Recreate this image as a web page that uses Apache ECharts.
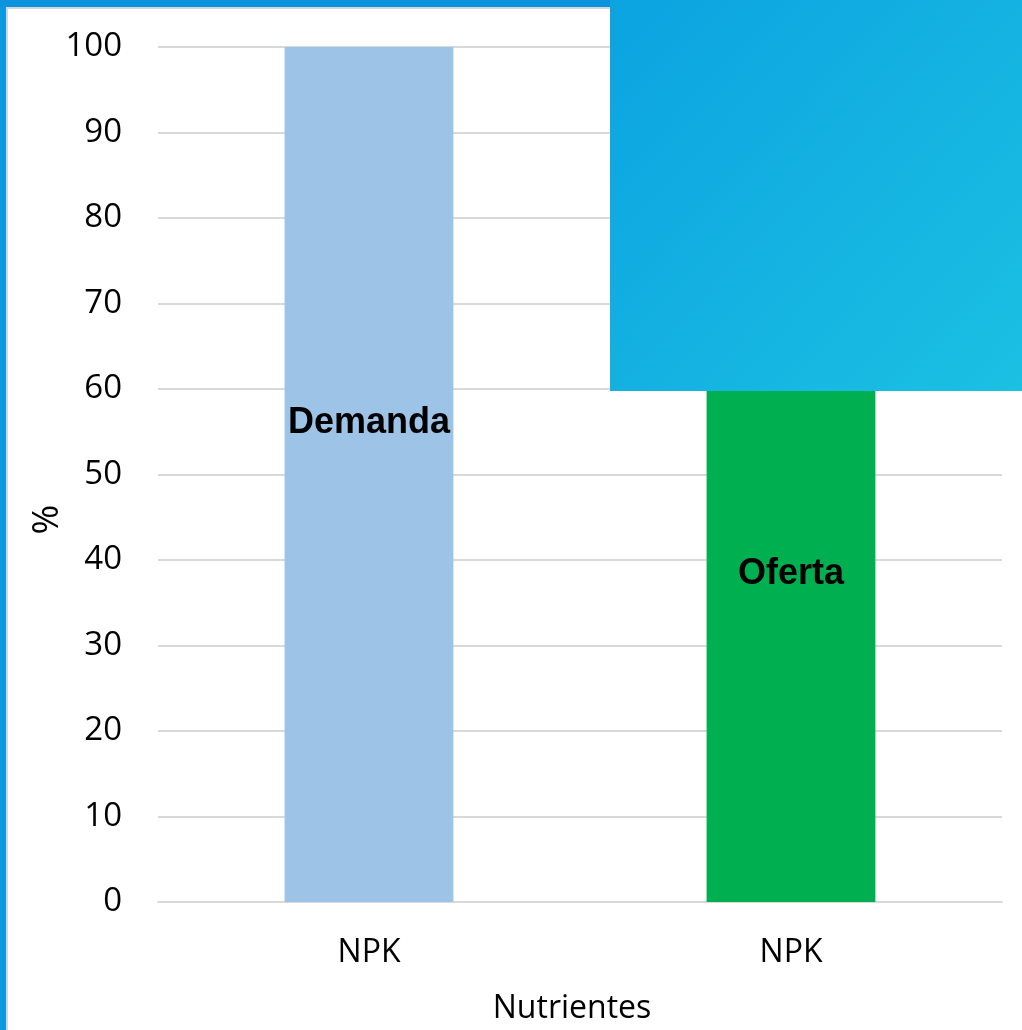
<!DOCTYPE html>
<html>
<head>
<meta charset="utf-8">
<script src="https://cdn.jsdelivr.net/npm/echarts@6/dist/echarts.min.js"></script>
<style>
  html, body { margin: 0; padding: 0; background: #fff; }
  #chart { width: 1022px; height: 1030px; }
</style>
</head>
<body>
<div id="chart"></div>
<script>
// categories and values
const categories = ['NPK', 'NPK'];
const barValues = [100, 77];
const barColors = ['#9dc3e6', '#00b050'];
const labelNames = ['Demanda', 'Oferta'];
const labelValues = [56.0, 38.4];

const chart = echarts.init(document.getElementById('chart'), null, { renderer: 'canvas' });

const option = {
    backgroundColor: '#ffffff',
    animation: false,
    grid: { left: 158, right: 20, top: 47, bottom: 127 },
    xAxis: {
        type: 'category',
        data: categories,
        name: 'Nutrientes',
        nameLocation: 'middle',
        nameGap: 91,
        nameMoveOverlap: false,
        nameTextStyle: { fontFamily: 'Open Sans', fontSize: 32, color: '#000', padding: [0, 16, 0, 0] },
        axisLine: { lineStyle: { color: '#d9d9d9', width: 2 } },
        axisTick: { show: false },
        axisLabel: { fontFamily: 'Open Sans', fontSize: 32, color: '#000', margin: 35 }
    },
    yAxis: {
        type: 'value',
        min: 0,
        max: 100,
        interval: 10,
        name: '%',
        nameLocation: 'middle',
        nameGap: 92,
        nameMoveOverlap: false,
        nameRotate: 90,
        nameTextStyle: { fontFamily: 'Open Sans', fontSize: 36, color: '#000', padding: [0, 90, 0, 0] },
        axisLine: { show: false },
        axisTick: { show: false },
        axisLabel: { fontFamily: 'Open Sans', fontSize: 33, color: '#000', margin: 36 },
        splitLine: { lineStyle: { color: '#d9d9d9', width: 2 } }
    },
    series: [
        {
            type: 'bar',
            barWidth: '40%',
            data: barValues.map((v, i) => ({ value: v, itemStyle: { color: barColors[i] } }))
        },
        {
            type: 'scatter',
            symbolSize: 0,
            z: 5,
            itemStyle: { opacity: 1 },
            data: labelValues.map((v, i) => ({ value: [i, v], name: labelNames[i] })),
            label: {
                show: true,
                position: 'inside',
                formatter: p => p.name,
                fontFamily: 'Liberation Sans',
                fontWeight: 'bold',
                fontSize: 36,
                color: '#000',
                opacity: 1,
                textBorderWidth: 0
            }
        }
    ],
    graphic: [
        // slide frame: blue strips at left and top
        { type: 'rect', z: 100, shape: { x: 0, y: 0, width: 6, height: 1030 }, style: { fill: '#0b99e0' } },
        { type: 'rect', z: 100, shape: { x: 0, y: 0, width: 1022, height: 7 }, style: { fill: '#0b93e0' } },
        { type: 'rect', z: 99, shape: { x: 6, y: 7, width: 2, height: 1023 }, style: { fill: '#d6d6d6' } },
        { type: 'rect', z: 99, shape: { x: 6, y: 7, width: 1016, height: 2 }, style: { fill: '#d6d6d6' } },
        // overlay block covering the upper right
        {
            type: 'rect', z: 101,
            shape: { x: 610, y: 0, width: 412, height: 391 },
            style: {
                fill: new echarts.graphic.LinearGradient(0, 0, 1, 1, [
                    { offset: 0, color: '#0ca3e1' },
                    { offset: 1, color: '#1bc0e2' }
                ])
            }
        }
    ]
};

chart.setOption(option);
</script>
</body>
</html>
